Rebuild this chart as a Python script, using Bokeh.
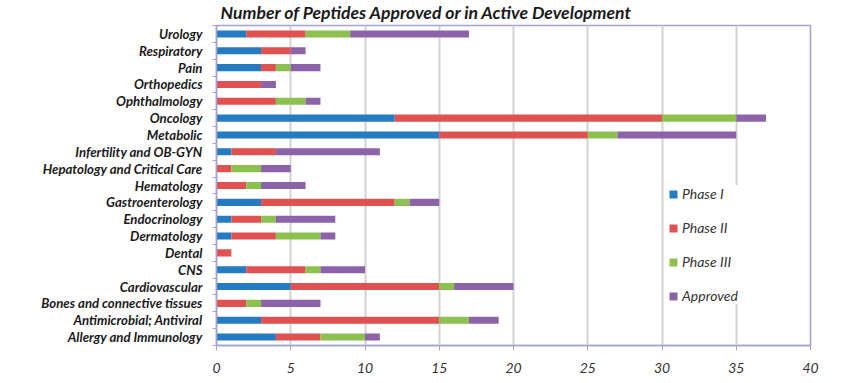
from bokeh.plotting import figure
from bokeh.models import Range1d, FixedTicker, Title, Legend, LegendItem, ColumnDataSource
from bokeh.embed import file_html
from bokeh.resources import INLINE

categories = ["Allergy and Immunology", "Antimicrobial; Antiviral", "Bones and connective tissues",
              "Cardiovascular", "CNS", "Dental", "Dermatology", "Endocrinology", "Gastroenterology",
              "Hematology", "Hepatology and Critical Care", "Infertility and OB-GYN", "Metabolic",
              "Oncology", "Ophthalmology", "Orthopedics", "Pain", "Respiratory", "Urology"]
phase1 = [4, 3, 0, 5, 2, 0, 1, 1, 3, 0, 0, 1, 15, 12, 0, 0, 3, 3, 2]
phase2 = [3, 12, 2, 10, 4, 1, 3, 2, 9, 2, 1, 3, 10, 18, 4, 3, 1, 2, 4]
phase3 = [3, 2, 1, 1, 1, 0, 3, 1, 1, 1, 2, 0, 2, 5, 2, 0, 1, 0, 3]
approved = [1, 2, 4, 4, 3, 0, 1, 4, 2, 3, 2, 7, 8, 2, 1, 1, 2, 1, 8]
series = ["Phase I", "Phase II", "Phase III", "Approved"]
colors = ["#247BC1", "#E05151", "#8CC04F", "#8C63A8"]
x_ticks = [0, 5, 10, 15, 20, 25, 30, 35, 40]
title = "Number of Peptides Approved or in Active Development"

n = len(categories)
ys = [i + 0.5 for i in range(n)]
data = {"y": ys}
for name, vals in zip(series, [phase1, phase2, phase3, approved]):
    data[name] = vals
source = ColumnDataSource(data=data)

AX = "#A3A3D3"
FONT = "Lato"

p = figure(width=850, height=375, x_range=Range1d(0, 40), y_range=Range1d(0, n),
           output_backend="svg", toolbar_location=None, title=None,
           min_border_left=216, min_border_right=40, min_border_top=25, min_border_bottom=28)
p.background_fill_color = "white"
p.border_fill_color = "white"
p.outline_line_color = AX
p.outline_line_width = 1.5

renderers = p.hbar_stack(series, y="y", height=0.42, color=colors, line_color=None, source=source)

p.ygrid.visible = False
p.xgrid.grid_line_color = "#D2D2D2"
p.xgrid.grid_line_width = 2
p.xaxis.ticker = FixedTicker(ticks=x_ticks)
p.xaxis.axis_line_color = AX
p.xaxis.axis_line_width = 1.5
p.xaxis.major_tick_line_color = AX
p.xaxis.major_tick_out = 5
p.xaxis.major_tick_in = 0
p.xaxis.minor_tick_line_color = None
p.xaxis.major_label_standoff = 12
p.xaxis.major_label_text_font = FONT
p.xaxis.major_label_text_font_style = "italic"
p.xaxis.major_label_text_font_size = "14px"
p.xaxis.major_label_text_color = "#333333"

p.yaxis.ticker = FixedTicker(ticks=ys, minor_ticks=list(range(n + 1)))
p.yaxis.major_label_overrides = {y: c for y, c in zip(ys, categories)}
p.yaxis.axis_line_color = AX
p.yaxis.axis_line_width = 1.5
p.yaxis.major_tick_line_color = None
p.yaxis.major_tick_out = 0
p.yaxis.major_tick_in = 0
p.yaxis.minor_tick_line_color = AX
p.yaxis.minor_tick_out = 4
p.yaxis.minor_tick_in = 0
p.yaxis.major_label_standoff = 10
p.yaxis.major_label_text_font = FONT
p.yaxis.major_label_text_font_style = "bold italic"
p.yaxis.major_label_text_font_size = "13.2px"
p.yaxis.major_label_text_color = "#1A1A1A"

legend = Legend(items=[LegendItem(label=s, renderers=[r]) for s, r in zip(series, renderers)],
                location=(452, 41), padding=10, margin=0, spacing=17,
                glyph_width=10, glyph_height=10, label_height=16, label_standoff=4,
                border_line_color=None, background_fill_color="white", background_fill_alpha=1.0,
                label_text_font=FONT, label_text_font_style="italic", label_text_font_size="14px",
                label_text_color="#333333")
p.add_layout(legend)

p.add_layout(Title(text=title, align="left", offset=4, standoff=1, vertical_align="top",
                   text_font=FONT, text_font_style="bold italic", text_font_size="17.6px",
                   text_color="#1A1A1A"), "above")

open("out.html", "w").write(file_html(p, INLINE))
